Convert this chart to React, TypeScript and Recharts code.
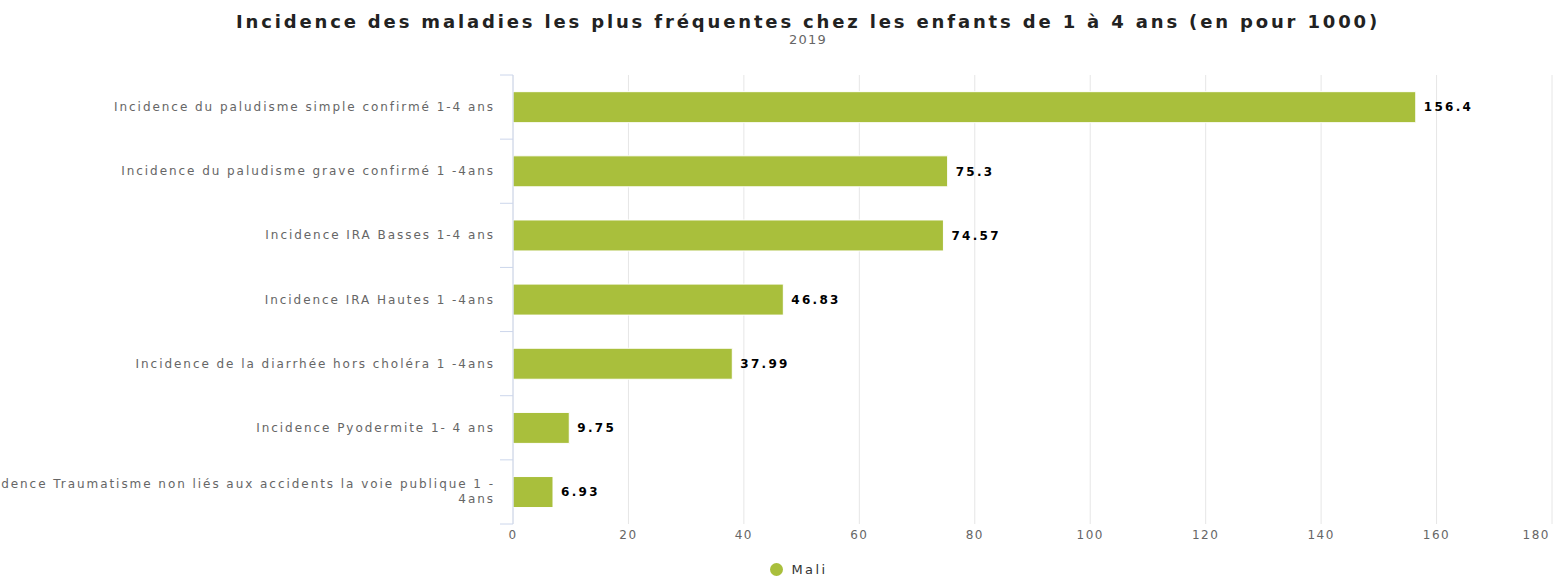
import React from 'react';
import { BarChart, Bar, XAxis, YAxis, CartesianGrid, LabelList } from 'recharts';

const categories = [
    'Incidence du paludisme simple confirmé 1-4 ans',
    'Incidence du paludisme grave confirmé 1 -4ans',
    'Incidence IRA Basses 1-4 ans',
    'Incidence IRA Hautes 1 -4ans',
    'Incidence de la diarrhée hors choléra 1 -4ans',
    'Incidence Pyodermite 1- 4 ans',
    'Incidence Traumatisme non liés aux accidents la voie publique 1 -4ans',
];
const maliValues = [156.4, 75.3, 74.57, 46.83, 37.99, 9.75, 6.93];
const xTicks = [0, 20, 40, 60, 80, 100, 120, 140, 160, 180];

const data = categories.map((name, i) => ({ name, mali: maliValues[i] }));

const GREEN = '#a9bf3c';
const AXIS = '#ccd6eb';
const FONT = '"DejaVu Sans", Verdana, sans-serif';

// wrap long labels like the original (break after the last hyphen)
const wrapLabel = (label: string): string[] => {
    if (label.length < 60) return [label];
    const idx = label.lastIndexOf('-');
    return [label.slice(0, idx + 1), label.slice(idx + 1)];
};

const CategoryTick = (props: any) => {
    const { x, y, payload, index, visibleTicksCount } = props;
    const lines = wrapLabel(payload.value);
    const lineH = 15;
    const startY = y - ((lines.length - 1) * lineH) / 2;
    const half = payload.offset || 32;
    const axisX = x + 12;
    return (
        <g>
            <line x1={axisX - 13} x2={axisX} y1={y - half} y2={y - half} stroke={AXIS} />
            {index === visibleTicksCount - 1 && (
                <line x1={axisX - 13} x2={axisX} y1={y + half} y2={y + half} stroke={AXIS} />
            )}
            <text
                x={x - 6}
                y={startY}
                textAnchor="end"
                fill="#666666"
                fontSize={12}
                fontFamily={FONT}
                letterSpacing={1.95}
                dominantBaseline="central"
            >
                {lines.map((l, i) => (
                    <tspan key={i} x={x - 6} dy={i === 0 ? 0 : lineH}>
                        {l}
                    </tspan>
                ))}
            </text>
        </g>
    );
};

const ValueTick = (props: any) => {
    const { x, y, payload } = props;
    const last = payload.value === xTicks[xTicks.length - 1];
    return (
        <text
            x={last ? x - 2 : x}
            y={y + 3}
            textAnchor={last ? 'end' : 'middle'}
            fill="#666666"
            fontSize={12}
            fontFamily={FONT}
            letterSpacing={1.5}
            dominantBaseline="central"
        >
            {payload.value}
        </text>
    );
};

const App = () => {
    return (
        <div style={{ position: 'absolute', left: 0, top: 0, width: 1556, height: 579, background: '#fff' }}>
            <div
                style={{
                    position: 'absolute',
                    top: 11,
                    left: 30,
                    width: 1556,
                    textAlign: 'center',
                    fontFamily: FONT,
                    fontWeight: 'bold',
                    fontSize: 18,
                    letterSpacing: 2.85,
                    color: '#222',
                }}
            >
                Incidence des maladies les plus fréquentes chez les enfants de 1 à 4 ans (en pour 1000)
            </div>
            <div
                style={{
                    position: 'absolute',
                    top: 32,
                    left: 30,
                    width: 1556,
                    textAlign: 'center',
                    fontFamily: FONT,
                    fontSize: 13,
                    letterSpacing: 1.2,
                    color: '#666',
                }}
            >
                2019
            </div>
            <BarChart
                width={1556}
                height={579}
                data={data}
                layout="vertical"
                margin={{ top: 75, right: 4, bottom: 25, left: 0 }}
                barCategoryGap="26%"
            >
                <CartesianGrid horizontal={false} stroke="#e6e6e6" />
                <XAxis
                    type="number"
                    domain={[0, 180]}
                    ticks={xTicks}
                    axisLine={false}
                    tickLine={false}
                    height={30}
                    tick={<ValueTick />}
                    interval={0}
                />
                <YAxis
                    type="category"
                    dataKey="name"
                    width={513}
                    axisLine={{ stroke: AXIS }}
                    tickLine={false}
                    tickSize={10}
                    tick={<CategoryTick />}
                    interval={0}
                />
                <Bar dataKey="mali" fill={GREEN} stroke="#ffffff" strokeWidth={1} isAnimationActive={false}>
                    <LabelList
                        dataKey="mali"
                        position="right"
                        offset={8}
                        fill="#000"
                        fontSize={12}
                        fontWeight="bold"
                        fontFamily={FONT}
                        letterSpacing={2.3}
                    />
                </Bar>
            </BarChart>
            <div
                style={{
                    position: 'absolute',
                    top: 562,
                    left: 10,
                    width: 1556,
                    display: 'flex',
                    justifyContent: 'center',
                    alignItems: 'center',
                    fontFamily: FONT,
                    fontSize: 13,
                    letterSpacing: 2.4,
                    color: '#333',
                }}
            >
                <span
                    style={{
                        display: 'inline-block',
                        width: 13,
                        height: 13,
                        borderRadius: '50%',
                        background: GREEN,
                        marginRight: 8,
                        marginLeft: 22,
                    }}
                />
                Mali
            </div>
        </div>
    );
};

export default App;
